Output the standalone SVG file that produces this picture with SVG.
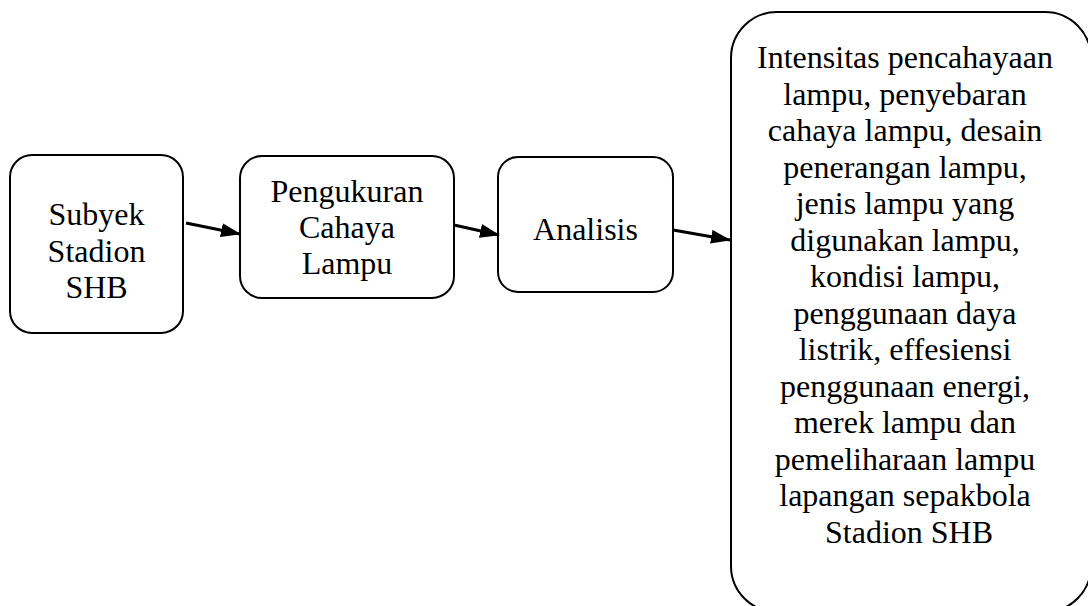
<svg xmlns="http://www.w3.org/2000/svg" width="1088" height="606" viewBox="0 0 1088 606">
<style>
.box{fill:#fff;stroke:#000;stroke-width:2}
.t{font-family:'Liberation Serif','Times New Roman',Times,serif;font-size:32px;fill:#000;text-anchor:middle}
.c{stroke:#000;stroke-width:3;fill:none;marker-end:url(#ah)}
</style>
<defs>
<marker id="ah" markerUnits="userSpaceOnUse" markerWidth="20" markerHeight="14" viewBox="0 0 20 14" refX="19" refY="7" orient="auto">
<path d="M0,0 L20,7 L0,14 Z" fill="#000"/>
</marker>
</defs>
<rect width="1088" height="606" fill="#fff"/>
<g id="n1">
<rect class="box" x="10" y="155" width="173" height="178" rx="22"/>
<text class="t" font-family="Liberation Serif, serif"><tspan x="96.5" y="225">Subyek</tspan><tspan x="96.5" y="261.5">Stadion</tspan><tspan x="96.5" y="298">SHB</tspan></text>
</g>
<g id="n2">
<rect class="box" x="240" y="156" width="214" height="142" rx="22"/>
<text class="t" font-family="Liberation Serif, serif"><tspan x="347" y="202">Pengukuran</tspan><tspan x="347" y="238">Cahaya</tspan><tspan x="347" y="274">Lampu</tspan></text>
</g>
<g id="n3">
<rect class="box" x="498" y="157" width="175" height="135" rx="20"/>
<text class="t" font-family="Liberation Serif, serif" x="585.5" y="240">Analisis</text>
</g>
<g id="n4">
<rect class="box" x="731" y="12" width="360" height="600" rx="46"/>
<text class="t" font-family="Liberation Serif, serif">
<tspan x="909" y="68">Intensitas pencahayaan</tspan>
<tspan x="909" y="104.5">lampu, penyebaran</tspan>
<tspan x="909" y="141">cahaya lampu, desain</tspan>
<tspan x="909" y="177.5">penerangan lampu,</tspan>
<tspan x="909" y="214">jenis lampu yang</tspan>
<tspan x="909" y="250.5">digunakan lampu,</tspan>
<tspan x="909" y="287">kondisi lampu,</tspan>
<tspan x="909" y="323.5">penggunaan daya</tspan>
<tspan x="909" y="360">listrik, effesiensi</tspan>
<tspan x="909" y="396.5">penggunaan energi,</tspan>
<tspan x="909" y="433">merek lampu dan</tspan>
<tspan x="909" y="469.5">pemeliharaan lampu</tspan>
<tspan x="909" y="506">lapangan sepakbola</tspan>
<tspan x="909" y="542.5">Stadion SHB</tspan>
</text>
</g>
<g id="connectors">
<line class="c" x1="186" y1="223" x2="240" y2="234"/>
<line class="c" x1="454" y1="225" x2="499" y2="235"/>
<line class="c" x1="673" y1="230" x2="730" y2="240"/>
</g>
</svg>
